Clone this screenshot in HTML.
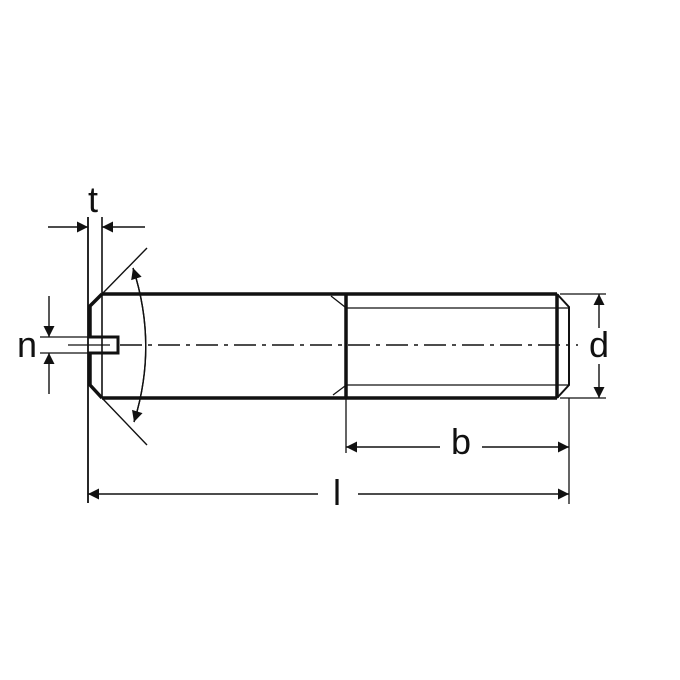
<!DOCTYPE html>
<html><head><style>body{margin:0;background:#fff}svg{display:block}</style></head><body>
<svg width="680" height="680" viewBox="0 0 680 680" xmlns="http://www.w3.org/2000/svg">
<defs>
<marker id="a" viewBox="0 0 10 10" refX="10" refY="5" markerWidth="17" markerHeight="11" markerUnits="userSpaceOnUse" orient="auto"><path d="M0,0L10,5L0,10z" fill="#111"/></marker>
</defs>
<g stroke="#111" fill="none" stroke-linecap="butt">
<line x1="120" y1="345" x2="578" y2="345" stroke-width="1.6" stroke-dasharray="22,6,4,6"/>
<line x1="88" y1="217" x2="88" y2="503" stroke-width="1.8"/>
<line x1="102" y1="217" x2="102" y2="398" stroke-width="1.6"/>
<path d="M90,338 V306 L102,294 M90,353 V385 L102,398" stroke-width="3.5"/>
<path d="M88,337 H118 V353 H88" stroke-width="3"/>
<line x1="68" y1="345" x2="110" y2="345" stroke-width="1.3"/>
<line x1="102" y1="294" x2="557" y2="294" stroke-width="3.5"/>
<line x1="102" y1="398" x2="557" y2="398" stroke-width="3.5"/>
<line x1="346" y1="294" x2="346" y2="398" stroke-width="3.5"/>
<line x1="557" y1="294" x2="557" y2="398" stroke-width="3.5"/>
<path d="M557,294 L569,307 V385 L557,398" stroke-width="2"/>
<line x1="346" y1="308" x2="569" y2="308" stroke-width="1.3"/>
<line x1="346" y1="385" x2="569" y2="385" stroke-width="1.3"/>
<line x1="331" y1="296" x2="345" y2="307" stroke-width="1.3"/>
<line x1="333" y1="395" x2="345" y2="386" stroke-width="1.3"/>
<line x1="102" y1="294" x2="147" y2="248" stroke-width="1.4"/>
<line x1="102" y1="398" x2="147" y2="445" stroke-width="1.4"/>
<path d="M133,268 Q158,345 134,422" stroke-width="1.4" marker-end="url(#a)"/>
<path d="M134,422 Q158,345 133,268" stroke-width="1.4" marker-end="url(#a)"/>
<line x1="48" y1="227" x2="88" y2="227" stroke-width="1.4" marker-end="url(#a)"/>
<line x1="145" y1="227" x2="102" y2="227" stroke-width="1.4" marker-end="url(#a)"/>
<line x1="40" y1="337" x2="88" y2="337" stroke-width="1.3"/>
<line x1="40" y1="353" x2="88" y2="353" stroke-width="1.3"/>
<line x1="49" y1="296" x2="49" y2="337" stroke-width="1.4" marker-end="url(#a)"/>
<line x1="49" y1="394" x2="49" y2="353" stroke-width="1.4" marker-end="url(#a)"/>
<line x1="560" y1="294" x2="606" y2="294" stroke-width="1.3"/>
<line x1="560" y1="398" x2="606" y2="398" stroke-width="1.3"/>
<line x1="599" y1="328" x2="599" y2="294" stroke-width="1.4" marker-end="url(#a)"/>
<line x1="599" y1="364" x2="599" y2="398" stroke-width="1.4" marker-end="url(#a)"/>
<line x1="346" y1="398" x2="346" y2="453" stroke-width="1.3"/>
<line x1="569" y1="398" x2="569" y2="504" stroke-width="1.3"/>
<line x1="440" y1="447" x2="346" y2="447" stroke-width="1.4" marker-end="url(#a)"/>
<line x1="482" y1="447" x2="569" y2="447" stroke-width="1.4" marker-end="url(#a)"/>
<line x1="318" y1="494" x2="88" y2="494" stroke-width="1.4" marker-end="url(#a)"/>
<line x1="358" y1="494" x2="569" y2="494" stroke-width="1.4" marker-end="url(#a)"/>
</g>
<g font-family="Liberation Sans, sans-serif" font-size="36" fill="#111" text-anchor="middle">
<text x="93" y="212">t</text>
<text x="27" y="357">n</text>
<text x="599" y="357">d</text>
<text x="461" y="454">b</text>
<text x="337" y="505">l</text>
</g>
</svg>
</body></html>
